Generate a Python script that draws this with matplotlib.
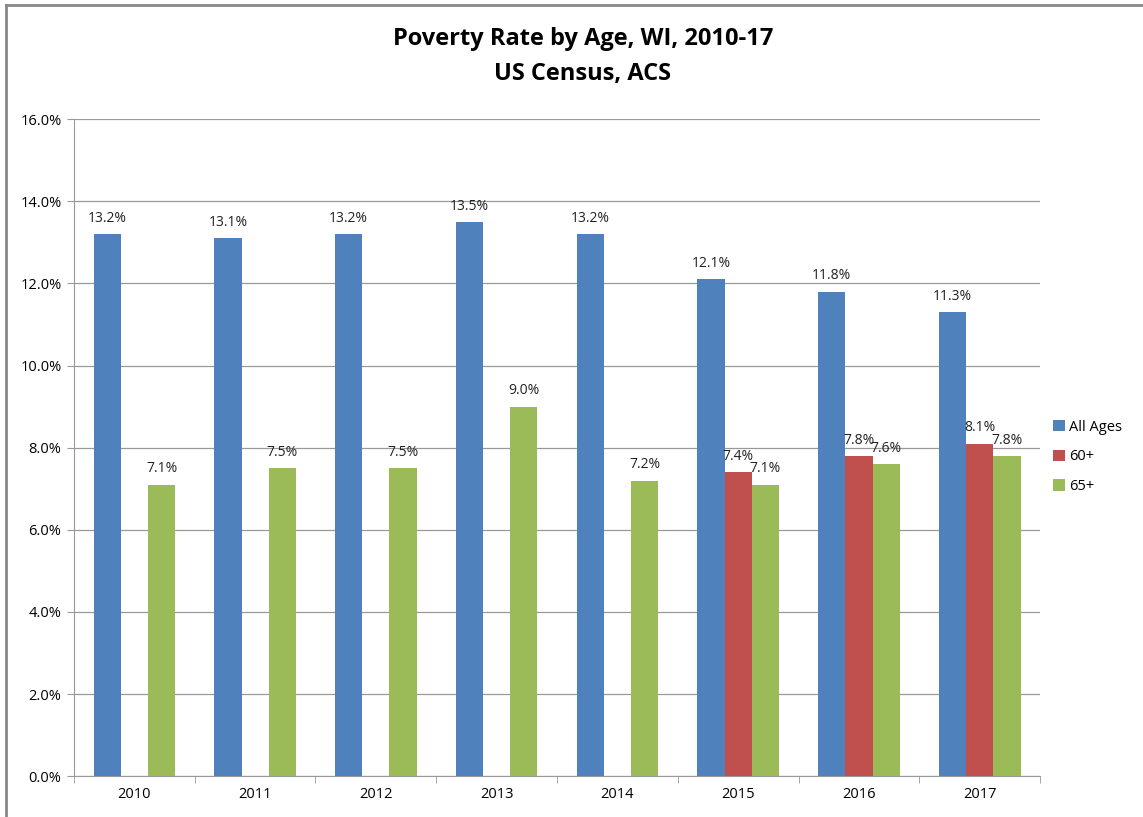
import numpy as np
import matplotlib.pyplot as plt
from matplotlib.lines import Line2D

# data
years = ['2010', '2011', '2012', '2013', '2014', '2015', '2016', '2017']
all_ages = [13.2, 13.1, 13.2, 13.5, 13.2, 12.1, 11.8, 11.3]
age_60 = [np.nan, np.nan, np.nan, np.nan, np.nan, 7.4, 7.8, 8.1]
age_65 = [7.1, 7.5, 7.5, 9.0, 7.2, 7.1, 7.6, 7.8]

plt.rcParams['font.family'] = ['Open Sans', 'DejaVu Sans']

fig = plt.figure(figsize=(11.43, 8.17), dpi=100)
ax = fig.add_axes([0.0647, 0.050, 0.8453, 0.804])

x = np.arange(len(years))
w = 0.225
series = [('All Ages', all_ages, '#4f81bd'),
          ('60+', age_60, '#c0504d'),
          ('65+', age_65, '#9bbb59')]

for i, (name, vals, col) in enumerate(series):
    pos = x + (i - 1) * w
    ax.bar(pos, vals, width=w, color=col, label=name, zorder=3)
    for p, v in zip(pos, vals):
        if not np.isnan(v):
            ax.text(p, v + 0.2, f'{v:.1f}%', ha='center', va='bottom',
                    fontsize=10, color='#222222', zorder=4)

ax.set_xlim(-0.5, len(years) - 0.5)
ax.set_ylim(0, 16)
ax.set_yticks(np.arange(0, 16.1, 2))
ax.set_yticklabels([f'{t:.1f}%' for t in np.arange(0, 16.1, 2)])
ax.set_xticks(x)
ax.set_xticklabels(years)
ax.set_xticks(np.arange(-0.5, len(years), 1), minor=True)
ax.tick_params(axis='x', which='major', length=0, labelsize=10.5, pad=8)
ax.tick_params(axis='x', which='minor', length=5, color='#999999')
ax.tick_params(axis='y', length=5, color='#999999', labelsize=10.5, pad=4)
ax.grid(axis='y', color='#999999', linewidth=0.9, zorder=0)

for s in ['top', 'right']:
    ax.spines[s].set_visible(False)
for s in ['left', 'bottom']:
    ax.spines[s].set_color('#999999')

ax.legend(loc='center left', bbox_to_anchor=(1.0, 0.486), frameon=False,
          fontsize=10.5, handlelength=0.8, handleheight=0.8, handletextpad=0.3,
          labelspacing=1.0)

fig.text(0.51, 0.952, 'Poverty Rate by Age, WI, 2010-17', ha='center',
         va='center', fontsize=17, fontweight='bold')
fig.text(0.51, 0.909, 'US Census, ACS', ha='center', va='center',
         fontsize=17, fontweight='bold')

# chart border
fig.add_artist(Line2D([0.0055, 0.0055], [0, 0.994], color='#888888', lw=2))
fig.add_artist(Line2D([0.0055, 1], [0.994, 0.994], color='#888888', lw=2))

fig.savefig('out.png', dpi=100)
